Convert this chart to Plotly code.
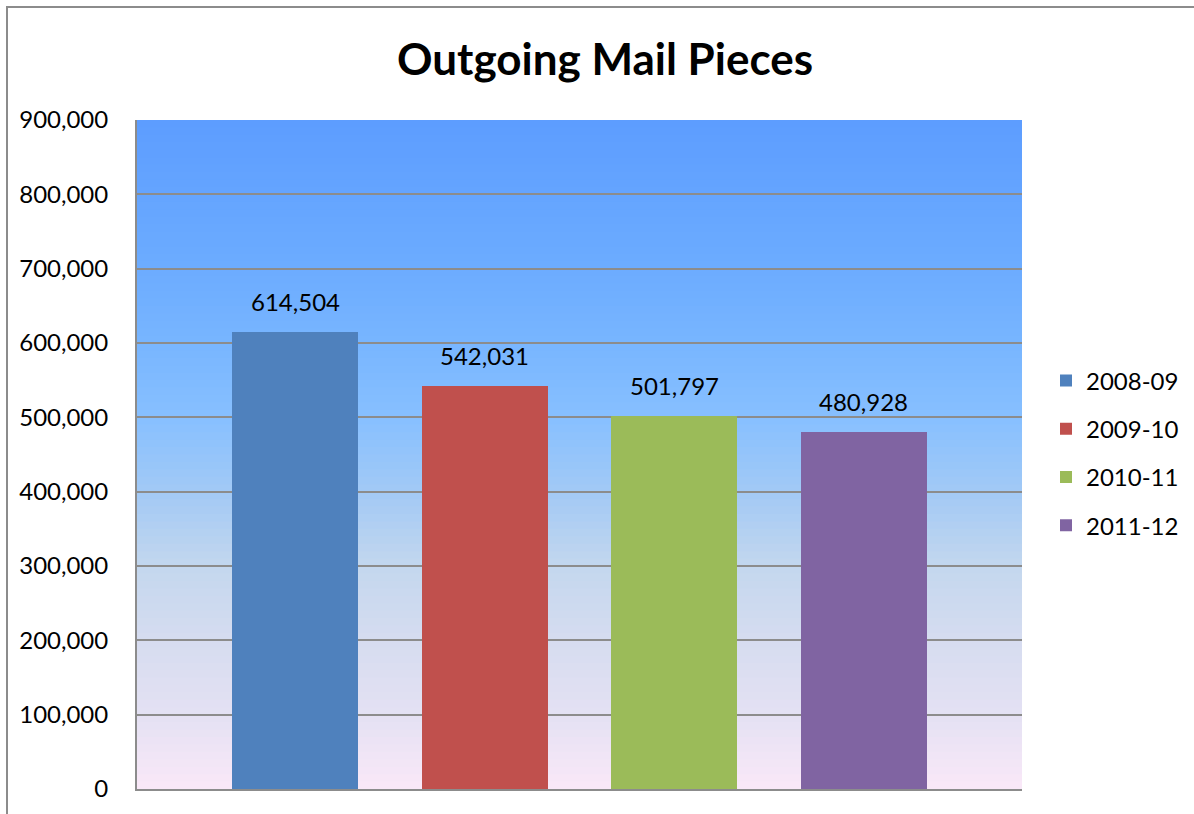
import plotly.graph_objects as go

# ---- data ----
categories = ["2008-09", "2009-10", "2010-11", "2011-12"]
values = [614504, 542031, 501797, 480928]
bar_colors = ["#4F81BD", "#C0504D", "#9BBB59", "#8064A2"]
y_ticks = [0, 100000, 200000, 300000, 400000, 500000, 600000, 700000, 800000, 900000]
title_text = "Outgoing Mail Pieces"

# ---- layout geometry ----
W, H = 1194, 814
ML, MR, MT, MB = 137, 172, 120, 25
PW, PH = W - ML - MR, H - MT - MB
FONT = "Lato"

def px_x(p):
    return (p - ML) / PW

def px_y(p):
    return (H - MB - p) / PH

# background gradient stops (value fraction -> rgb)
grad_stops = [
    (0.0, (250, 232, 248)),
    (0.111, (228, 225, 243)),
    (0.222, (214, 220, 240)),
    (0.333, (195, 215, 238)),
    (0.444, (162, 201, 245)),
    (0.555, (135, 192, 255)),
    (0.666, (120, 182, 255)),
    (0.777, (108, 172, 255)),
    (1.0, (93, 157, 255)),
]

def grad_color(f):
    for (f0, c0), (f1, c1) in zip(grad_stops[:-1], grad_stops[1:]):
        if f0 <= f <= f1:
            t = (f - f0) / (f1 - f0)
            c = [round(a + (b - a) * t) for a, b in zip(c0, c1)]
            return "rgb(%d,%d,%d)" % tuple(c)
    return "rgb(%d,%d,%d)" % grad_stops[-1][1]

fig = go.Figure()

for i, (cat, val, col) in enumerate(zip(categories, values, bar_colors)):
    fig.add_trace(go.Bar(
        x=[i], y=[val], name=cat, width=0.665, legendgroup=cat,
        marker=dict(color=col, line=dict(width=0)),
        hoverinfo="name+y",
    ))
    fig.add_annotation(
        x=i, y=val, text=f"{val:,}", showarrow=False,
        yanchor="bottom", yshift=14,
        font=dict(family=FONT, size=24, color="#000000"),
    )

ymax = y_ticks[-1]
shapes = []
n = 90
step = ymax / n
for k in range(n):
    f0, f1 = k / n, (k + 1) / n
    shapes.append(dict(
        type="rect", xref="paper", yref="y", x0=0, x1=1,
        y0=ymax * f0, y1=min(ymax, ymax * f1 + step * 0.6), layer="below",
        fillcolor=grad_color((f0 + f1) / 2), line=dict(width=0),
    ))
# outer chart border
shapes.append(dict(
    type="rect", xref="paper", yref="paper",
    x0=px_x(7), x1=px_x(W + 20), y0=px_y(H + 20), y1=px_y(7),
    line=dict(color="#8C8C8C", width=2), fillcolor="rgba(0,0,0,0)", layer="below",
))

fig.update_layout(
    width=W, height=H,
    margin=dict(l=ML, r=MR, t=MT, b=MB, pad=0, autoexpand=False),
    paper_bgcolor="white", plot_bgcolor="white",
    title=dict(text=f"<b>{title_text}</b>", x=605 / W, xanchor="center",
               y=1 - 60 / H, yanchor="middle",
               font=dict(family=FONT, size=44, color="#000000")),
    showlegend=True,
    legend=dict(x=px_x(1046), xanchor="left", y=px_y(453), yanchor="middle",
                font=dict(family=FONT, size=24, color="#000000"),
                tracegroupgap=14, itemwidth=30, bgcolor="rgba(0,0,0,0)"),
    xaxis=dict(range=[-0.834, 3.834], showticklabels=False, showgrid=False,
               zeroline=False, showline=True, linecolor="#8C8C8C", linewidth=2,
               ticks="", fixedrange=True),
    yaxis=dict(range=[0, ymax], tickvals=y_ticks,
               ticktext=[f"{v:,}" for v in y_ticks],
               showgrid=True, gridcolor="#8C8C8C", gridwidth=1.5,
               zeroline=False, showline=True, linecolor="#8C8C8C", linewidth=2,
               ticks="", ticklen=0, ticklabelstandoff=22,
               tickfont=dict(family=FONT, size=24, color="#000000")),
    shapes=shapes,
    bargap=0,
)

fig.write_html("out.html", config={"displayModeBar": False},
               post_script="document.body.style.margin='0';")
